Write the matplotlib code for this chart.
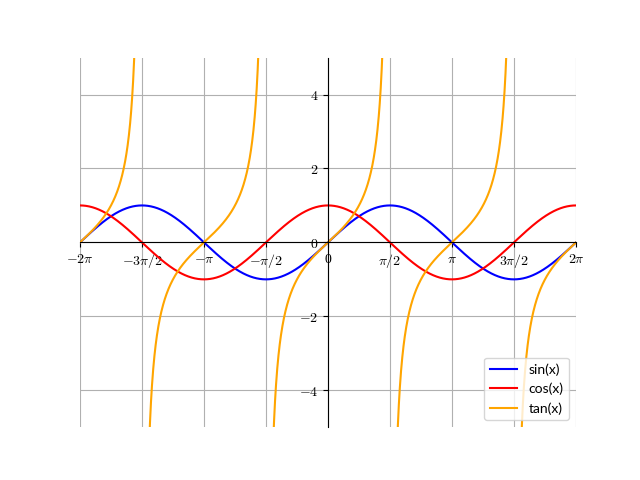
import numpy as np
import matplotlib
matplotlib.use("Agg")
import matplotlib.pyplot as plt

plt.rcParams['mathtext.fontset'] = 'cm'

x = np.linspace(-2 * np.pi, 2 * np.pi, 2000)
y_sin = np.sin(x)
y_cos = np.cos(x)
y_tan = np.tan(x)
y_tan[np.abs(y_tan) > 20] = np.nan

xtick_vals = [-2 * np.pi, -1.5 * np.pi, -np.pi, -0.5 * np.pi, 0, 0.5 * np.pi, np.pi, 1.5 * np.pi, 2 * np.pi]
xtick_labels = [r'$-2\pi$', r'$-3\pi/2$', r'$-\pi$', r'$-\pi/2$', r'$0$', r'$\pi/2$', r'$\pi$', r'$3\pi/2$', r'$2\pi$']
ytick_vals = [-4, -2, 0, 2, 4]
ytick_labels = [r'$-4$', r'$-2$', r'$0$', r'$2$', r'$4$']

fig, ax = plt.subplots(figsize=(6.4, 4.8), dpi=100)
ax.plot(x, y_sin, color='blue', label='sin(x)')
ax.plot(x, y_cos, color='red', label='cos(x)')
ax.plot(x, y_tan, color='orange', label='tan(x)')

ax.set_xlim(-2 * np.pi, 2 * np.pi)
ax.set_ylim(-5, 5)
ax.spines['left'].set_position('zero')
ax.spines['bottom'].set_position('zero')
ax.spines['top'].set_visible(False)
ax.spines['right'].set_visible(False)
ax.set_xticks(xtick_vals)
ax.set_xticklabels(xtick_labels)
ax.set_yticks(ytick_vals)
ax.set_yticklabels(ytick_labels)
ax.grid(True)
ax.legend(loc='lower right', prop={'family': 'Lato'})

fig.savefig('out.png')
